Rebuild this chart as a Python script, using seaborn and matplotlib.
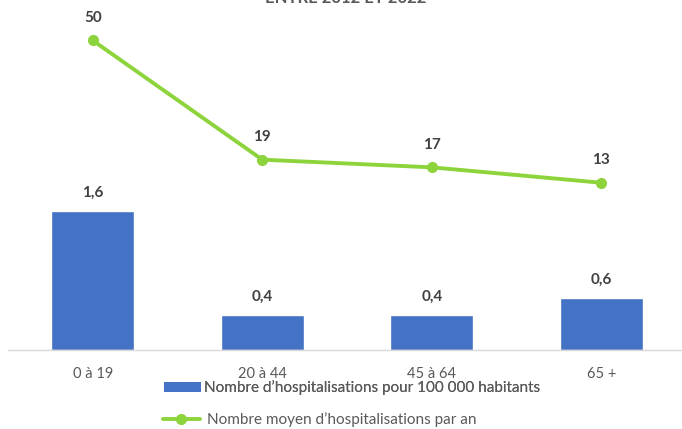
import matplotlib
matplotlib.use("Agg")
import matplotlib.pyplot as plt
import seaborn as sns
import pandas as pd
from matplotlib.lines import Line2D
from matplotlib.patches import Patch

categories = ["0 à 19", "20 à 44", "45 à 64", "65 +"]
taux = [1.6, 0.4, 0.4, 0.6]
moyenne = [50, 19, 17, 13]
taux_labels = ["1,6", "0,4", "0,4", "0,6"]
moyenne_labels = ["50", "19", "17", "13"]
bar_name = "Nombre d\u2019hospitalisations pour 100 000 habitants"
line_name = "Nombre moyen d\u2019hospitalisations par an"
title = "ENTRE 2012 ET 2022"

sns.set_theme(style="white")
plt.rcParams["font.family"] = ["Lato", "DejaVu Sans"]

blue = "#4472C4"
green = "#8DD43C"
label_col = "#404040"
tick_col = "#595959"

df = pd.DataFrame({"cat": categories, "taux": taux, "moy": moyenne})

fig = plt.figure(figsize=(6.82, 4.29), dpi=100)
ax = fig.add_axes([8/682, 79/429, 678/682, 348/429])
sns.barplot(data=df, x="cat", y="taux", color=blue, width=0.49, ax=ax, saturation=1)
ax.set_ylim(0, 4)
ax.set_xlim(-0.5, 3.5)
ax2 = ax.twinx()
sns.lineplot(x=list(range(len(categories))), y=moyenne, ax=ax2, color=green, lw=2.8,
             marker="o", markersize=8, markeredgewidth=0)
ax2.set_ylim(-30.5, 60)
ax2.set_xlim(-0.5, 3.5)

for a in (ax, ax2):
    a.set_yticks([])
    a.set_ylabel("")
    a.set_xlabel("")
    for s in ["top", "left", "right", "bottom"]:
        a.spines[s].set_visible(False)
ax.spines["bottom"].set_visible(True)
ax.spines["bottom"].set_color("#D9D9D9")
ax.spines["bottom"].set_linewidth(1)
ax.tick_params(axis="x", length=0, pad=12, labelsize=10.5, labelcolor=tick_col)

for i, (v, l) in enumerate(zip(taux, taux_labels)):
    ax.annotate(l, (i, v), xytext=(0, 8), textcoords="offset points", ha="center",
                va="bottom", fontsize=11, fontweight="bold", color=label_col)
for i, (v, l) in enumerate(zip(moyenne, moyenne_labels)):
    ax2.annotate(l, (i, v), xytext=(0, 11), textcoords="offset points", ha="center",
                 va="bottom", fontsize=11, fontweight="bold", color=label_col)

fig.text(346/682, 1.0 - 3/429, title, ha="center", va="baseline", fontsize=12,
         fontweight="bold", color=tick_col)

h1 = Patch(facecolor=blue, edgecolor="none")
leg1 = fig.legend([h1], [bar_name], loc="center", bbox_to_anchor=(352/682, 1 - 388/429),
                  frameon=False, fontsize=11, handlelength=2.4, handletextpad=0.2,
                  labelcolor=tick_col, borderpad=0)
h2 = Line2D([0], [0], color=green, lw=2.8, marker="o", markersize=8, markeredgewidth=0)
fig.legend([h2], [line_name], loc="center", bbox_to_anchor=(320/682, 1 - 420/429),
           frameon=False, fontsize=11, handlelength=2.4, handletextpad=0.5,
           labelcolor=tick_col, borderpad=0)
fig.add_artist(leg1)

fig.savefig("out.png", dpi=100)
